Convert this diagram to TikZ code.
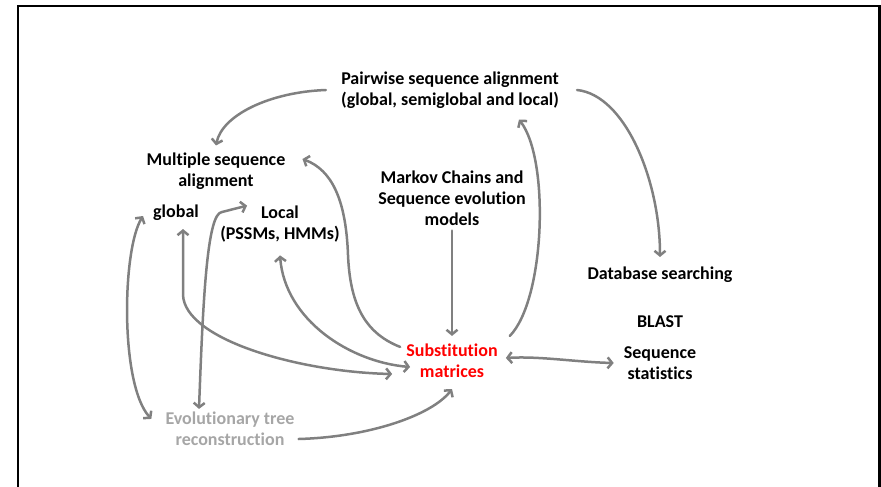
\documentclass[tikz,border=0pt]{standalone}
\usepackage{fontspec}
\setmainfont{Carlito}[Ligatures={NoCommon,NoRare}]
\usetikzlibrary{arrows.meta,calc}
\definecolor{arrgray}{RGB}{128,128,128}
\definecolor{evogray}{RGB}{166,166,166}
\definecolor{subred}{RGB}{255,0,0}
\begin{document}
\begin{tikzpicture}[x=1pt,y=-1pt,
  lbl/.style={inner sep=0pt,align=center,font=\bfseries\fontsize{18}{21}\selectfont},
  conn/.style={draw=arrgray,line width=2.5pt,line cap=round,line join=round},
  tip/.style={-{Straight Barb[length=4.5pt,width=11pt]}},
  tips/.style={{Straight Barb[length=4.5pt,width=11pt]}-{Straight Barb[length=4.5pt,width=11pt]}}
]
\useasboundingbox (0,0) rectangle (881,487);
\draw[line width=2.5pt] (18,490) -- (18,6) -- (879.5,6) -- (879.5,490);

\node[lbl] (pair) at (450,90) {Pairwise sequence alignment\\(global, semiglobal and local)};
\node[lbl] (msa) at (216,171) {Multiple sequence\\alignment};
\node[lbl] (glob) at (176,213) {global};
\node[lbl] (loc) at (280,224) {Local\\(PSSMs, HMMs)};
\node[lbl] (markov) at (452,198) {Markov Chains and\\Sequence evolution\\models};
\node[lbl] (db) at (660,275) {Database searching};
\node[lbl] (blast) at (660,322) {BLAST};
\node[lbl] (seqstat) at (660,363) {Sequence\\statistics};
\node[lbl,text=subred] (subst) at (452,361) {Substitution\\matrices};
\node[lbl,text=evogray] (evo) at (230,429) {Evolutionary tree\\reconstruction};

% Pairwise -> MSA
\draw[conn,tip] ($(pair.west)+(-15,0)$) .. controls (270,92) and (222,115) .. ($(msa.north)+(0,-7)$);
% Pairwise -> Database
\draw[conn,tip] ($(pair.east)+(18,0)$) .. controls (625,95) and (660,180) .. ($(db.north)+(0,-10)$);
% Substitution -> Pairwise
\draw[conn,tip] ($(subst.north east)+(12,-8)$) .. controls (545,300) and (550,160) .. ($(pair.south)+(69,11)$);
% Markov -> Substitution
\draw[conn,tip] ($(markov.south)+(0,5)$) -- ($(subst.north)+(0,-8)$);
% Substitution <-> Sequence statistics
\draw[conn,tips] ($(subst.east)+(8,-3)$) .. controls (540,356) and (575,362) .. ($(seqstat.west)+(-10,0)$);
% Substitution -> MSA
\draw[conn,tip] ($(subst.north west)+(-6,3)$) .. controls (362,332) and (350,300) .. (348,255)
  .. controls (346,200) and (332,170) .. ($(msa.east)+(17,-12)$);
% Local <-> Substitution
\draw[conn,tips] ($(loc.south)+(0,13)$) .. controls (285,320) and (350,362) .. ($(subst.west)+(4,6)$);
% global <-> Substitution
\draw[conn,tips] ($(glob.south)+(7,8)$) -- (183,295) .. controls (185,340) and (300,372) .. ($(subst.west)+(-14,13)$);
% Evolutionary <-> Local
\draw[conn,tips] ($(evo.north)+(-31,-3)$) .. controls (203,300) and (207,213) .. (222,212) -- ($(loc.north west)+(27,0)$);
% global <-> Evolutionary (left arc)
\draw[conn,tips] ($(glob.west)+(-10,3)$) .. controls (122,250) and (120,385) .. ($(evo.north west)+(-14,7)$);
% Evolutionary -> Substitution
\draw[conn,tip] ($(evo.east)+(4,10)$) .. controls (370,437) and (432,415) .. ($(subst.south)+(0,11)$);
\end{tikzpicture}
\end{document}
